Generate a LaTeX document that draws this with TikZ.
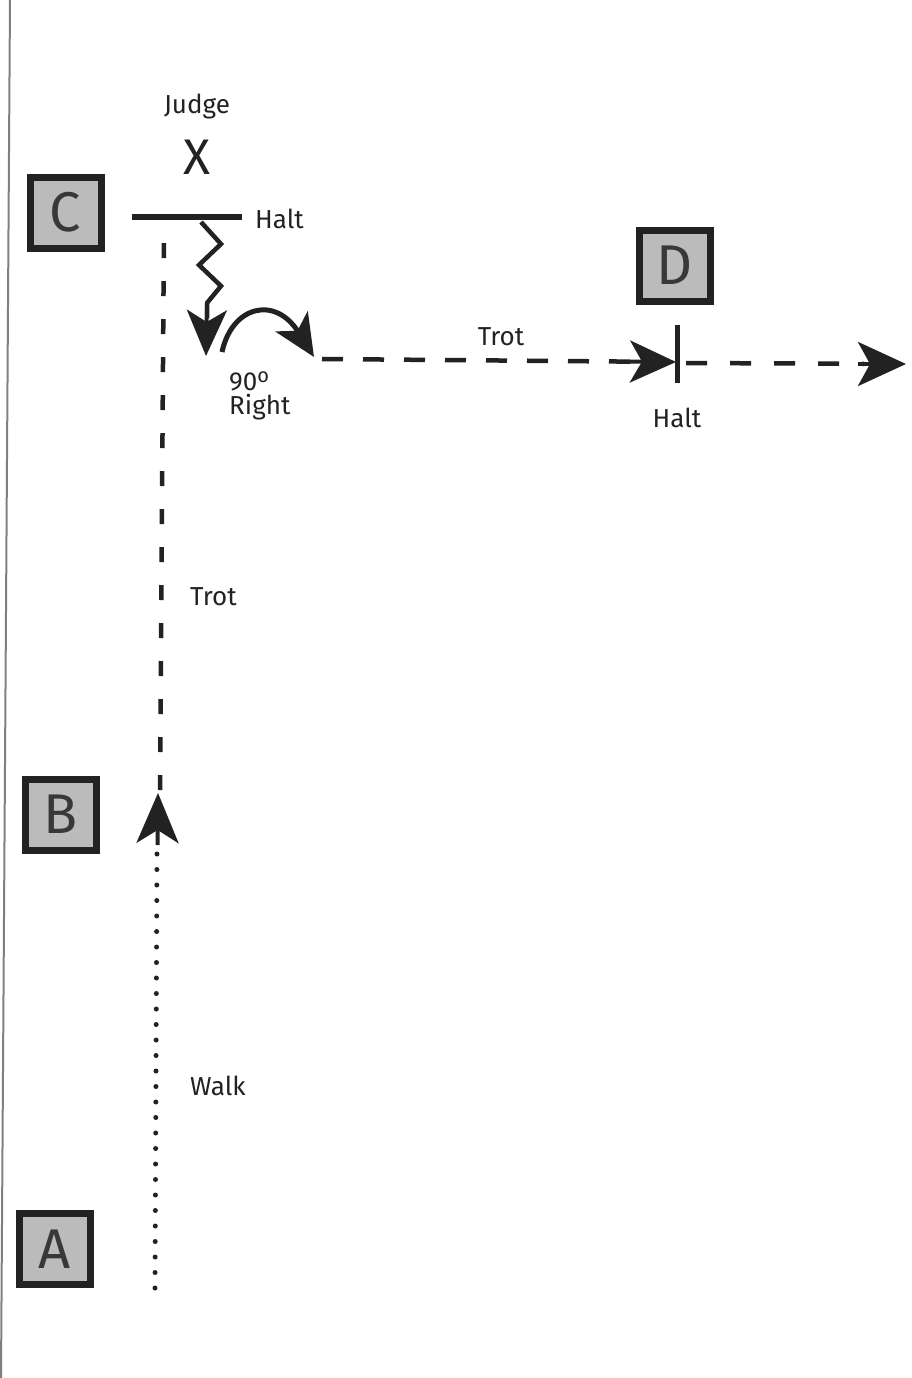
\documentclass[tikz,border=0pt]{standalone}
\usepackage{fontspec}
\setmainfont{Fira Sans}
\usetikzlibrary{arrows.meta}
\definecolor{ink}{HTML}{222222}
\definecolor{boxfill}{HTML}{BBBBBB}
\begin{document}
\begin{tikzpicture}[x=1pt,y=-1pt,
  letterbox/.style={draw=ink,line width=7pt,fill=boxfill,minimum width=71pt,minimum height=71pt,inner sep=0pt,font=\fontsize{56}{56}\fontseries{l}\selectfont\color{ink!90}},
  lab/.style={font=\fontsize{26}{28}\selectfont\color{ink},inner sep=0pt},
  bigtip/.style={-{Stealth[length=50pt,width=42pt,inset=13pt]}},
  trotv/.style={line width=4.5pt,draw=ink,dash pattern=on 15pt off 23pt},
  troth/.style={line width=4.5pt,draw=ink,dash pattern=on 21pt off 20pt},
  walkline/.style={line width=5pt,draw=ink,line cap=round,dash pattern=on 0pt off 15.5pt},
  bar/.style={line width=6pt,draw=ink}]
\useasboundingbox (0,0) rectangle (912,1378);
\fill[white] (0,0) rectangle (912,1378);
% left border line
\coordinate (bt) at (10,0);
\coordinate (bb) at (1,1378);
\draw[gray,line width=2pt] (bt) -- (bb);
% letter boxes
\node[letterbox] (C) at (65.5,212.5) {C};
\node[letterbox] (D) at (675,265.5) {D};
\node[letterbox] (B) at (60.5,814.5) {B};
\node[letterbox] (A) at (54.5,1249) {A};
% judge
\node[lab] (judge) at (197,107) {Judge};
\node[font=\fontsize{50}{50}\fontseries{l}\selectfont\color{ink},inner sep=0pt] (X) at (197,157) {X};
% halt bar at C
\coordinate (h1) at (132,217);
\coordinate (h2) at (242,217);
\draw[bar] (h1) -- (h2);
\node[lab,anchor=west] (haltC) at (255,219) {Halt};
% walk (dotted) from A to B
\coordinate (w0) at (155,1288);
\coordinate (w1) at (157,850);
\draw[walkline] (w0) -- (w1);
\coordinate (wtip) at (158,793);
\draw[bigtip,line width=4pt,draw=ink] (157.5,845) -- (wtip);
\node[lab,anchor=west] (walk) at (190,1086) {Walk};
% trot up to C
\coordinate (t0) at (160,790);
\coordinate (t1) at (164,222);
\draw[trotv] (t0) -- (t1);
\node[lab,anchor=west] (trotv) at (190,597) {Trot};
% zigzag to arrow
\coordinate (z0) at (201,222);
\coordinate (z1) at (221,244);
\coordinate (z2) at (199,265);
\coordinate (z3) at (221,286);
\coordinate (z4) at (207,303);
\coordinate (ztip) at (206,356);
\draw[line width=4.5pt,draw=ink,line join=miter] (z0) -- (z1) -- (z2) -- (z3) -- (z4) -- (207,318);
\draw[-{Stealth[length=46pt,width=40pt,inset=12pt]},line width=4pt,draw=ink] (207,305) -- (ztip);
% curved turn arrow
\coordinate (c0) at (222,352);
\coordinate (ctip) at (314,357);
\draw[line width=5pt,draw=ink,-{Stealth[length=42pt,width=38pt,inset=11pt]}] (c0) .. controls (232,306) and (275,295) .. (ctip);
\node[lab,anchor=west,align=left] (ninety) at (229,396) {90\raisebox{0.55ex}{\fontsize{20}{20}\selectfont o}\\[-4pt]Right};
% trot right to D
\coordinate (r0) at (322,359);
\coordinate (r1) at (676,362);
\draw[troth,shorten >=38pt] (r0) -- (r1);
\draw[-{Stealth[length=46pt,width=42pt,inset=12pt]},draw=ink,line width=4pt] (630,361.5) -- (r1);
\node[lab] (trot2) at (501,337) {Trot};
% halt bar at D
\coordinate (d1) at (677,325);
\coordinate (d2) at (677,383);
\draw[line width=5pt,draw=ink] (d1) -- (d2);
\node[lab] (haltD) at (677,418) {Halt};
% continue right
\coordinate (e0) at (686,363);
\coordinate (etip) at (906,364);
\draw[troth,shorten >=42pt,dash pattern=on 21pt off 23pt] (e0) -- (etip);
\draw[-{Stealth[length=48pt,width=44pt,inset=12pt]},draw=ink,line width=4pt] (858,364) -- (etip);
\end{tikzpicture}
\end{document}
